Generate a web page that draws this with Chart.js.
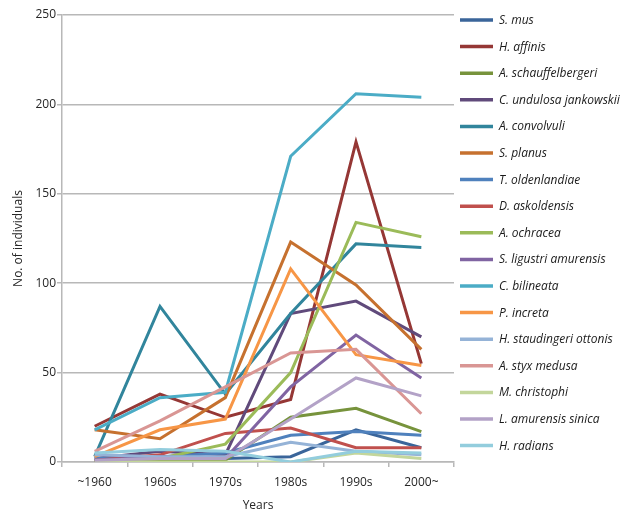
<!DOCTYPE html>
<html>
<head>
<meta charset="utf-8">
<script src="https://cdn.jsdelivr.net/npm/chart.js@4"></script>
<style>
    html, body { margin: 0; padding: 0; background: #fff; }
    #wrap { width: 625px; height: 517px; position: relative; }
</style>
</head>
<body>
<div id="wrap"><canvas id="speciesChart" width="625" height="517"></canvas></div>
<script>
// categories on the x axis
const periods = ["~1960", "1960s", "1970s", "1980s", "1990s", "2000~"];

// species names, in legend order
const species = [
    "S. mus", "H. affinis", "A. schauffelbergeri", "C. undulosa jankowskii",
    "A. convolvuli", "S. planus", "T. oldenlandiae", "D. askoldensis",
    "A. ochracea", "S. ligustri amurensis", "C. bilineata", "P. increta",
    "H. staudingeri ottonis", "A. styx medusa", "M. christophi",
    "L. amurensis sinica", "H. radians"
];

// counts per period
const sMus        = [1, 1, 2, 3, 18, 8];
const hAffinis    = [20, 38, 25, 35, 179, 55];
const aSchauff    = [0, 1, 1, 25, 30, 17];
const cUndulosa   = [2, 6, 4, 83, 90, 70];
const aConvolvuli = [3, 87, 38, 83, 122, 120];
const sPlanus     = [18, 13, 36, 123, 99, 63];
const tOldenl     = [2, 3, 5, 15, 17, 15];
const dAskold     = [1, 4, 16, 19, 8, 8];
const aOchracea   = [0, 2, 10, 50, 134, 126];
const sLigustri   = [1, 3, 2, 42, 71, 47];
const cBilineata  = [18, 36, 39, 171, 206, 204];
const pIncreta    = [3, 18, 24, 108, 60, 54];
const hStauding   = [4, 3, 3, 11, 6, 4];
const aStyx       = [6, 23, 42, 61, 63, 27];
const mChristophi = [0, 0, 0, 0, 5, 2];
const lAmurensis  = [1, 2, 2, 24, 47, 37];
const hRadians    = [5, 7, 6, 0, 6, 5];

const yTicks = [0, 50, 100, 150, 200, 250];

const seriesValues = [
    sMus, hAffinis, aSchauff, cUndulosa, aConvolvuli, sPlanus, tOldenl, dAskold,
    aOchracea, sLigustri, cBilineata, pIncreta, hStauding, aStyx, mChristophi,
    lAmurensis, hRadians
];

const colors = [
    "#3a659a", "#953735", "#77933c", "#604a7b", "#31859c", "#c6712f",
    "#4f81bd", "#c0504d", "#9bbb59", "#8064a2", "#4bacc6", "#f79646",
    "#95b3d7", "#d99694", "#c3d69b", "#b3a2c7", "#93cddd"
];

const FONT = "'Open Sans', 'Noto Sans', sans-serif";
const GRID = "#b8b8b8";

// legend on the right, drawn by hand so spacing matches
const sideLegend = {
    id: "sideLegend",
    afterDraw(chart) {
        const ctx = chart.ctx;
        ctx.save();
        ctx.font = "italic 12px " + FONT;
        ctx.textBaseline = "middle";
        chart.data.datasets.forEach((ds, i) => {
            const y = 20 + i * 26.6;
            ctx.strokeStyle = ds.borderColor;
            ctx.lineWidth = 3.5;
            ctx.beginPath();
            ctx.moveTo(460, y);
            ctx.lineTo(493, y);
            ctx.stroke();
            ctx.fillStyle = "#1a1a1a";
            ctx.fillText(ds.label, 499, y + 0.5);
        });
        ctx.restore();
    }
};

document.addEventListener("DOMContentLoaded", () => {
    const ctx = document.getElementById("speciesChart");
    const n = species.length;

    new Chart(ctx, {
        type: "line",
        data: {
            labels: periods,
            datasets: species.map((name, i) => ({
                label: name,
                data: seriesValues[i],
                borderColor: colors[i],
                backgroundColor: colors[i],
                borderWidth: 3,
                pointRadius: 0,
                tension: 0,
                fill: false,
                order: n - i   // later series drawn on top
            }))
        },
        options: {
            responsive: false,
            animation: false,
            events: [],
            layout: { padding: { top: 15, right: 171, left: 1, bottom: 0 } },
            plugins: {
                legend: { display: false },
                tooltip: { enabled: false }
            },
            scales: {
                x: {
                    offset: true,
                    grid: {
                        offset: true,
                        drawOnChartArea: false,
                        drawTicks: true,
                        tickLength: 5,
                        color: GRID,
                        lineWidth: 1.5
                    },
                    border: { color: GRID, width: 1.5 },
                    ticks: { color: "#262626", font: { family: FONT, size: 12 }, padding: 8 },
                    title: {
                        display: true,
                        text: "Years",
                        color: "#262626",
                        font: { family: FONT, size: 12 },
                        padding: { top: 4, bottom: 4 }
                    },
                    afterFit: (scale) => { scale.height = 55; }
                },
                y: {
                    min: 0,
                    max: 250,
                    afterBuildTicks: (scale) => { scale.ticks = yTicks.map(v => ({ value: v })); },
                    grid: { color: GRID, lineWidth: 1.5, tickLength: 5 },
                    border: { color: GRID, width: 1.5 },
                    ticks: { color: "#262626", font: { family: FONT, size: 12 }, padding: 1 },
                    title: {
                        display: true,
                        text: "No. of individuals",
                        color: "#262626",
                        font: { family: FONT, size: 12 },
                        padding: { top: 10, bottom: 4 }
                    },
                    afterFit: (scale) => { scale.width = 61; }
                }
            }
        },
        plugins: [sideLegend]
    });
});
</script>
</body>
</html>
